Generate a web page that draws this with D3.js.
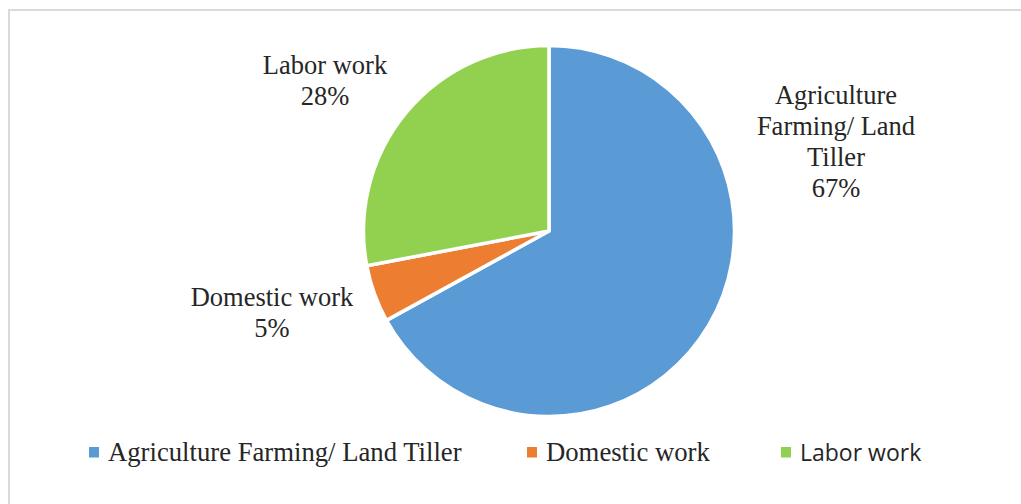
<!DOCTYPE html>
<html>
<head>
<meta charset="utf-8">
<script src="https://cdn.jsdelivr.net/npm/d3@7"></script>
<style>
  html, body { margin: 0; padding: 0; background: #fff; }
  svg { display: block; }
</style>
</head>
<body>
<svg id="chart" width="1021" height="504"></svg>
<script>
// Occupation shares (percent)
const categories = ["Agriculture Farming/ Land Tiller", "Domestic work", "Labor work"];
const values = [67, 5, 28];
const colors = ["#5B9BD5", "#ED7D31", "#92D050"];
// Wrapped data-label lines for each slice
const labelLines = [
  ["Agriculture", "Farming/ Land", "Tiller"],
  ["Domestic work"],
  ["Labor work"]
];
// Legend font per entry
const legendFonts = ["'Liberation Serif', 'Times New Roman', serif", "'Liberation Serif', 'Times New Roman', serif", "'Open Sans', sans-serif"];

const svg = d3.select("#chart");
const W = 1021, H = 504;

// chart frame
svg.append("rect")
  .attr("x", 9).attr("y", 10)
  .attr("width", W + 10).attr("height", H + 10)
  .attr("fill", "#fff")
  .attr("stroke", "#d9d9d9")
  .attr("stroke-width", 2);

const cx = 549, cy = 231, R = 185.5;

const pie = d3.pie().sort(null).value(d => d)(values);
const arc = d3.arc().innerRadius(0).outerRadius(R);

const g = svg.append("g").attr("transform", `translate(${cx},${cy})`);
g.selectAll("path")
  .data(pie)
  .join("path")
  .attr("d", arc)
  .attr("fill", (d, i) => colors[i])
  .attr("stroke", "#fff")
  .attr("stroke-width", 3.5)
  .attr("stroke-linejoin", "round");

// data labels placed outside each slice
const labelPos = [
  { x: 836, y: 104 },
  { x: 272, y: 306 },
  { x: 325, y: 74 }
];
const lineH = 31;
const serif = "'Liberation Serif', 'Times New Roman', serif";

pie.forEach((d, i) => {
  const lines = labelLines[i].concat([d3.format(".0f")(values[i]) + "%"]);
  const t = svg.append("text")
    .attr("text-anchor", "middle")
    .attr("font-family", serif)
    .attr("font-size", 26.5)
    .attr("fill", "#262626");
  lines.forEach((s, k) => {
    t.append("tspan")
      .attr("x", labelPos[i].x)
      .attr("y", labelPos[i].y + k * lineH)
      .text(s);
  });
});

// legend
const legendX = [89, 527, 781];
const legendY = 447;
const legend = svg.append("g");
categories.forEach((c, i) => {
  legend.append("rect")
    .attr("x", legendX[i]).attr("y", legendY)
    .attr("width", 10).attr("height", 10.5)
    .attr("fill", colors[i]);
  legend.append("text")
    .attr("x", legendX[i] + 19)
    .attr("y", 461)
    .attr("font-family", legendFonts[i])
    .attr("font-size", i === 2 ? 23 : 26.7)
    .attr("fill", "#262626")
    .text(c);
});
</script>
</body>
</html>
